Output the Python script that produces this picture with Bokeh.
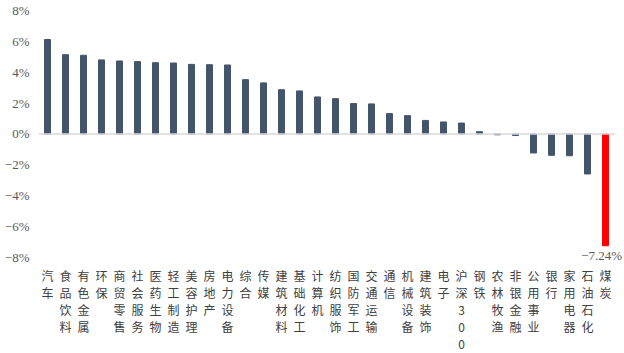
from bokeh.plotting import figure
from bokeh.models import ColumnDataSource, CustomJSTickFormatter, FixedTicker, Range1d, Label
from bokeh.embed import file_html
from bokeh.resources import INLINE

industries = ["汽车", "食品饮料", "有色金属", "环保", "商贸零售", "社会服务", "医药生物", "轻工制造",
              "美容护理", "房地产", "电力设备", "综合", "传媒", "建筑材料", "基础化工", "计算机",
              "纺织服饰", "国防军工", "交通运输", "通信", "机械设备", "建筑装饰", "电子", "沪深300",
              "钢铁", "农林牧渔", "非银金融", "公用事业", "银行", "家用电器", "石油石化", "煤炭"]
returns = [6.12, 5.14, 5.10, 4.80, 4.73, 4.69, 4.62, 4.60, 4.51, 4.49, 4.47, 3.52, 3.31, 2.87,
           2.79, 2.40, 2.29, 1.97, 1.95, 1.32, 1.19, 0.88, 0.78, 0.71, 0.15, -0.05, -0.10,
           -1.23, -1.38, -1.41, -2.59, -7.24]
y_ticks = [-8, -6, -4, -2, 0, 2, 4, 6, 8]
highlight = "煤炭"

BASE = "#44546A"
RED = "#FF0000"

n = len(industries)
xs = list(range(n))
colors = [RED if name == highlight else BASE for name in industries]
src = ColumnDataSource(dict(x=xs, y=returns, c=colors))

# frame extended a little to the right and below so the data label is not clipped
x_pad_right = 10 / 18.0
y_pad_bottom = 8 / 15.42
p = figure(width=624, height=353, frame_width=586, frame_height=255,
           x_range=Range1d(-0.5, n - 0.5 + x_pad_right),
           y_range=Range1d(y_ticks[0] - y_pad_bottom, y_ticks[-1]),
           output_backend="svg", toolbar_location=None,
           min_border_top=10, min_border_left=38, min_border_right=0, min_border_bottom=0)
p.outline_line_color = None
p.background_fill_color = "white"
p.border_fill_color = "white"
p.xgrid.visible = False
p.ygrid.visible = False

p.vbar(x="x", top="y", bottom=0, width=0.33, color="c", source=src)

# zero line across the category area
p.line(x=[-0.5, n - 0.5], y=[0, 0], line_color="#D9D9D9", line_width=1.5)

# data label for highlighted bar
hi = industries.index(highlight)
p.add_layout(Label(x=xs[hi], y=returns[hi], text="\u2212%.2f%%" % abs(returns[hi]),
                   text_align="center", text_baseline="top", y_offset=-2, x_offset=-4,
                   text_font="Liberation Serif", text_font_size="13px", text_color="#595959"))

p.yaxis.ticker = FixedTicker(ticks=y_ticks)
p.yaxis.formatter = CustomJSTickFormatter(code="return (tick < 0 ? '\u2212' + (-tick) : tick) + '%';")
p.yaxis.axis_line_color = None
p.yaxis.major_tick_line_color = None
p.yaxis.minor_tick_line_color = None
p.yaxis.major_tick_in = 0
p.yaxis.major_tick_out = 0
p.yaxis.major_label_text_font = "Liberation Serif"
p.yaxis.major_label_text_font_size = "13px"
p.yaxis.major_label_text_color = "#595959"
p.yaxis.major_label_standoff = 9

p.xaxis.ticker = FixedTicker(ticks=xs)
p.xaxis.major_label_overrides = {i: "\n".join(name) for i, name in zip(xs, industries)}
p.xaxis.axis_line_color = None
p.xaxis.major_tick_line_color = None
p.xaxis.minor_tick_line_color = None
p.xaxis.major_tick_in = 0
p.xaxis.major_tick_out = 0
p.xaxis.major_label_text_font = "Noto Sans CJK SC"
p.xaxis.major_label_text_font_size = "12px"
p.xaxis.major_label_text_color = "#404040"
p.xaxis.major_label_text_line_height = 1.0
p.xaxis.major_label_standoff = 1
p.xaxis.major_label_orientation = "horizontal"

open("out.html", "w").write(file_html(p, INLINE))
